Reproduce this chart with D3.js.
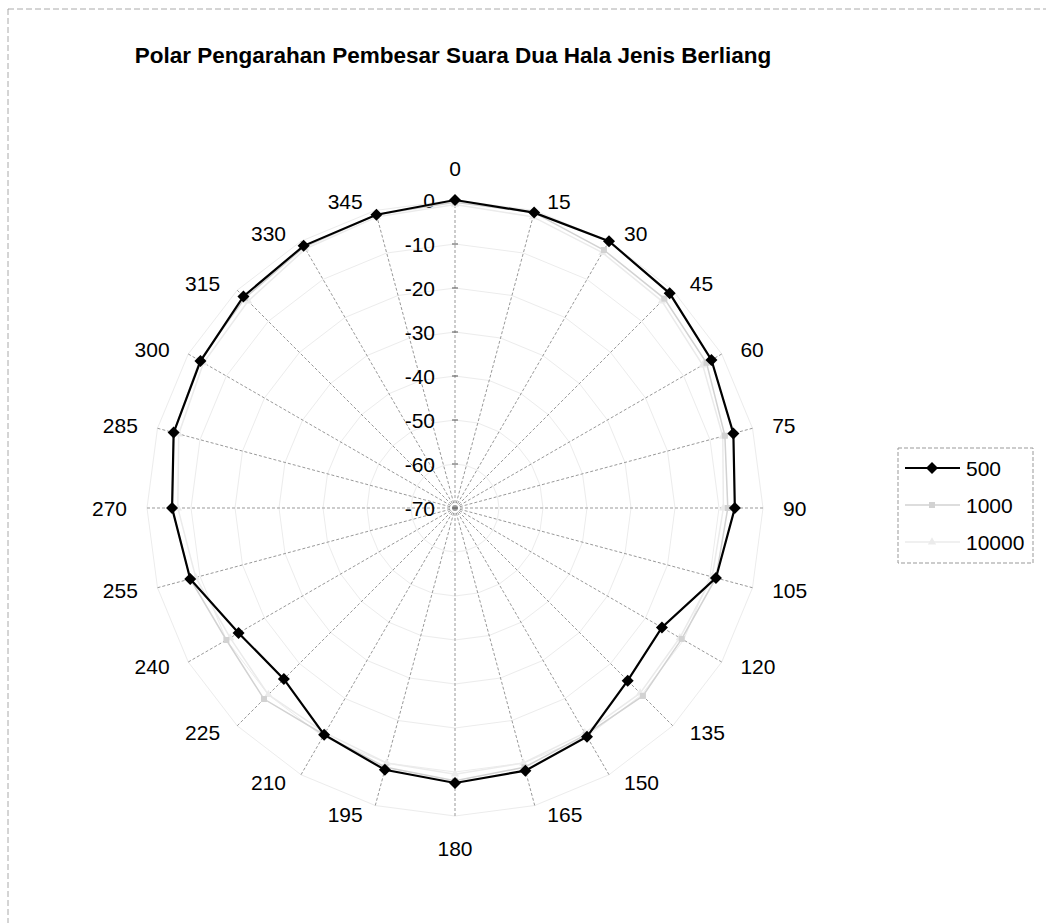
<html>
  <head>
    <script src="https://cdnjs.cloudflare.com/ajax/libs/d3/7.8.5/d3.min.js"></script>
    <style>
      body { margin: 0; background: #fff; }
      svg { display: block; font-family: "Liberation Sans", Arial, sans-serif; }
    </style>
  </head>
  <body>
    <svg width="1046" height="923"></svg>
    <script>
      const title = "Polar Pengarahan Pembesar Suara Dua Hala Jenis Berliang";
      const angles = [0, 15, 30, 45, 60, 75, 90, 105, 120, 135, 150, 165,
                      180, 195, 210, 225, 240, 255, 270, 285, 300, 315, 330, 345];
      const levelTicks = [0, -10, -20, -30, -40, -50, -60, -70];
      const seriesNames = ["500", "1000", "10000"];
      const s500 = [0, -0.5, 0, -1, -2.7, -4.5, -6.4, -8.6, -15.7, -14.5, -10, -8.2,
                    -7.5, -8.4, -10.5, -15, -13.2, -7.7, -5.7, -3.8, -3.2, -2, -1.2, -1];
      const s1000 = [-0.5, -0.5, -2.3, -2.7, -4, -6.5, -8, -8.6, -10.5, -9.6, -10.5, -9,
                     -8, -9, -10.5, -8.6, -10, -7.7, -5.7, -3.8, -3, -2.5, -1.5, -1];
      const s10000 = [-1, -1.5, -3, -3.5, -5, -7, -9, -9.5, -11, -10.5, -11, -10,
                      -9.5, -10, -11, -10, -11, -9, -7, -5, -4, -3.5, -2, -1.5];

      const svg = d3.select("svg");
      const cx = 455, cy = 508, R = 308;
      const r = d3.scaleLinear().domain([-70, 0]).range([0, R]);
      const rad = d => d * Math.PI / 180;
      const px = (a, v) => cx + r(v) * Math.sin(rad(a));
      const py = (a, v) => cy - r(v) * Math.cos(rad(a));
      const fs = 21;

      // chart area frame
      svg.append("rect")
        .attr("x", 8).attr("y", 9).attr("width", 1100).attr("height", 1000)
        .attr("fill", "none").attr("stroke", "#aaa").attr("stroke-dasharray", "6,3");

      svg.append("text")
        .attr("x", 453).attr("y", 63)
        .attr("text-anchor", "middle")
        .attr("font-size", 22.5).attr("font-weight", "bold")
        .text(title);

      // gridline polygons
      const g = svg.append("g");
      levelTicks.slice(0, -1).forEach(lv => {
        g.append("path")
          .attr("d", d3.line()(angles.map(a => [px(a, lv), py(a, lv)])) + "Z")
          .attr("fill", "none").attr("stroke", "#ececec").attr("stroke-width", 1);
      });

      // spokes
      g.selectAll(".spoke").data(angles).join("line")
        .attr("x1", cx).attr("y1", cy)
        .attr("x2", a => px(a, 0)).attr("y2", a => py(a, 0))
        .attr("stroke", "#999").attr("stroke-width", 1)
        .attr("stroke-dasharray", "3,2");

      // value axis ticks and labels
      levelTicks.forEach(lv => {
        g.append("line")
          .attr("x1", cx - 3).attr("x2", cx + 3)
          .attr("y1", py(0, lv)).attr("y2", py(0, lv))
          .attr("stroke", "#555");
        g.append("text")
          .attr("x", cx - 20).attr("y", py(0, lv) + 7.5)
          .attr("text-anchor", "end").attr("font-size", fs)
          .text(lv);
      });

      // category labels
      angles.forEach(a => {
        const s = Math.sin(rad(a)), c = Math.cos(rad(a));
        const x0 = px(a, 0), y0 = py(a, 0);
        const t = g.append("text").attr("font-size", fs).text(a);
        if (Math.abs(s) < 0.1) {
          t.attr("x", x0).attr("y", y0 - 32 * c + 7.5).attr("text-anchor", "middle");
        } else {
          const gap = 10 + 10 * Math.abs(s);
          t.attr("x", x0 + Math.sign(s) * gap)
            .attr("y", y0 - 9 * c + 7.5)
            .attr("text-anchor", s > 0 ? "start" : "end");
        }
      });

      const diamond = d3.symbol().type(d3.symbolSquare).size(72);
      const series = [
        { name: seriesNames[2], values: s10000, color: "#ebebeb", width: 1.5, marker: d3.symbol().type(d3.symbolTriangle).size(30), rot: 0 },
        { name: seriesNames[1], values: s1000, color: "#d2d2d2", width: 1.5, marker: d3.symbol().type(d3.symbolSquare).size(36), rot: 0 },
        { name: seriesNames[0], values: s500, color: "#000", width: 2.2, marker: diamond, rot: 45 }
      ];

      series.forEach(sr => {
        const pts = angles.map((a, i) => [px(a, sr.values[i]), py(a, sr.values[i])]);
        svg.append("path")
          .attr("d", d3.line()(pts) + "Z")
          .attr("fill", "none").attr("stroke", sr.color).attr("stroke-width", sr.width);
        svg.append("g").selectAll("path").data(pts).join("path")
          .attr("transform", d => `translate(${d[0]},${d[1]}) rotate(${sr.rot})`)
          .attr("d", sr.marker)
          .attr("fill", sr.color);
      });

      // legend
      const lg = svg.append("g");
      lg.append("rect")
        .attr("x", 898).attr("y", 448).attr("width", 135).attr("height", 115)
        .attr("fill", "#fff").attr("stroke", "#999").attr("stroke-dasharray", "4,2");
      const legendY = d3.scalePoint().domain(seriesNames).range([468, 542]);
      series.slice().reverse().forEach(sr => {
        const y = legendY(sr.name);
        lg.append("line").attr("x1", 905).attr("x2", 960).attr("y1", y).attr("y2", y)
          .attr("stroke", sr.color).attr("stroke-width", sr.width);
        lg.append("path")
          .attr("transform", `translate(932,${y}) rotate(${sr.rot})`)
          .attr("d", sr.marker)
          .attr("fill", sr.color);
        lg.append("text").attr("x", 966).attr("y", y + 7.5)
          .attr("font-size", fs).text(sr.name);
      });
    </script>
  </body>
</html>
